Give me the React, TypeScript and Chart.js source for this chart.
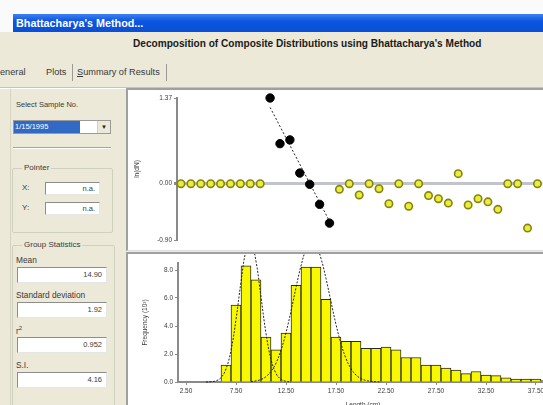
import React, { useEffect, useRef } from "react";
import { Chart, registerables } from "chart.js";

Chart.register(...registerables);

// ---------- Top panel: ln(dN) by length-class index ----------
const classIndexOther = [1, 2, 3, 4, 5, 6, 7, 8, 9, 17, 18, 19, 20, 21, 22, 23, 24, 25, 26, 27, 28, 29, 30, 31, 32, 33, 34, 35, 36, 37];
const lnOther = [0, 0, 0, 0, 0, 0, 0, 0, 0, -0.09, 0, -0.18, 0, -0.08, -0.32, 0, -0.36, 0, -0.19, -0.24, -0.31, 0.16, -0.34, -0.24, -0.29, -0.41, 0, 0, -0.71, 0];
const classIndexSelected = [10, 11, 12, 13, 14, 15, 16];
const lnSelected = [1.37, 0.64, 0.7, 0.17, -0.01, -0.33, -0.63];
const regressionX = [10, 16.2];
const regressionY = [1.22, -0.66];
const lnTicks = [-0.9, 0, 1.37];
const lnIndexRange = [0.6, 37.5];

// ---------- Bottom panel: length-frequency histogram ----------
const lengthMid = [6.5, 7.5, 8.5, 9.5, 10.5, 11.5, 12.5, 13.5, 14.5, 15.5, 16.5, 17.5, 18.5, 19.5, 20.5, 21.5, 22.5, 23.5, 24.5, 25.5, 26.5, 27.5, 28.5, 29.5, 30.5, 31.5, 32.5, 33.5, 34.5, 35.5, 36.5, 37.5, 38.5];
const frequency = [1.2, 5.5, 8.3, 7.3, 3.2, 2.3, 3.5, 6.9, 8.2, 8.2, 5.9, 3.2, 2.9, 2.9, 2.4, 2.4, 2.5, 2.3, 1.75, 1.75, 1.2, 1.2, 1.0, 0.85, 0.6, 0.75, 0.5, 0.45, 0.3, 0.2, 0.2, 0.2, 0.1];
const group1X = [4.5, 5, 5.5, 6, 6.5, 7, 7.5, 8, 8.5, 9, 9.5, 10, 10.5, 11, 11.5, 12, 12.5, 13];
const group1Y = [0, 0.02, 0.08, 0.31, 0.93, 2.25, 4.45, 7.15, 9.36, 9.96, 8.62, 6.07, 3.47, 1.62, 0.61, 0.19, 0.05, 0.01];
const group2X = [9, 9.5, 10, 10.5, 11, 11.5, 12, 12.5, 13, 13.5, 14, 14.5, 15, 15.5, 16, 16.5, 17, 17.5, 18, 18.5, 19, 19.5, 20, 20.5, 21, 21.5, 22];
const group2Y = [0.03, 0.08, 0.18, 0.38, 0.75, 1.35, 2.27, 3.52, 5.06, 6.74, 8.3, 9.46, 9.98, 9.76, 8.82, 7.39, 5.73, 4.11, 2.73, 1.68, 0.96, 0.5, 0.25, 0.11, 0.05, 0.02, 0];
const lengthTicks = [2.5, 7.5, 12.5, 17.5, 22.5, 27.5, 32.5, 37.5];
const lengthRange = [1.7, 38.7];
const freqTicks = [0, 2, 4, 6, 8];
const freqRange = [0, 8.5];

const FONT = '"Liberation Sans", Arial, sans-serif';
const AXIS = "#8a8a8a";
const TXT = "#3a3a3a";

function zip(xs: number[], ys: number[]) {
  return xs.map((x, i) => ({ x, y: ys[i] }));
}

function TopChart() {
  const ref = useRef<HTMLCanvasElement>(null);
  useEffect(() => {
    const chart = new Chart(ref.current!, {
      type: "scatter",
      data: {
        datasets: [
          {
            data: zip(regressionX, regressionY),
            showLine: true,
            borderColor: "#222",
            borderWidth: 1,
            borderDash: [2, 2],
            pointRadius: 0,
            order: 3,
          },
          {
            data: zip(classIndexSelected, lnSelected),
            backgroundColor: "#000",
            borderColor: "#000",
            pointRadius: 4.2,
            clip: false,
            order: 1,
          },
          {
            data: zip(classIndexOther, lnOther),
            backgroundColor: "#ecec3c",
            borderColor: "#84840e",
            borderWidth: 1.6,
            pointRadius: 3.7,
            clip: false,
            order: 2,
          },
        ],
      } as any,
      options: {
        animation: false,
        responsive: false,
        events: [],
        layout: { padding: { top: 8, bottom: 10, left: 0, right: 0 } },
        plugins: { legend: { display: false }, tooltip: { enabled: false } },
        scales: {
          x: { type: "linear", display: false, min: lnIndexRange[0], max: lnIndexRange[1] },
          y: {
            type: "linear",
            min: lnTicks[0],
            max: lnTicks[lnTicks.length - 1],
            afterBuildTicks: (s: any) => {
              s.ticks = lnTicks.map((v) => ({ value: v }));
            },
            afterFit: (s: any) => {
              s.width = 49;
            },
            ticks: {
              callback: (v: any) => Number(v).toFixed(2),
              font: { size: 6.5, family: FONT },
              color: TXT,
              padding: 2,
            },
            grid: {
              color: (c: any) => (c.tick && c.tick.value === 0 ? "#c3c3cb" : "rgba(0,0,0,0)"),
              lineWidth: (c: any) => (c.tick && c.tick.value === 0 ? 3 : 1),
              drawTicks: true,
              tickLength: 3,
              tickColor: AXIS,
            },
            border: { color: AXIS, width: 2 },
            title: {
              display: true,
              text: "ln(dN)",
              font: { size: 6.5, family: FONT },
              color: TXT,
              padding: { top: 5, bottom: 0 },
            },
          },
        },
      } as any,
    });
    return () => chart.destroy();
  }, []);
  return <canvas ref={ref} width={420} height={160} style={{ display: "block" }} />;
}

function BottomChart() {
  const ref = useRef<HTMLCanvasElement>(null);
  useEffect(() => {
    const chart = new Chart(ref.current!, {
      type: "bar",
      data: {
        datasets: [
          {
            type: "line",
            data: zip(group1X, group1Y),
            borderColor: "#222",
            borderWidth: 1,
            borderDash: [2, 1.5],
            pointRadius: 0,
            tension: 0.4,
            clip: false,
            order: 1,
          },
          {
            type: "line",
            data: zip(group2X, group2Y),
            borderColor: "#222",
            borderWidth: 1,
            borderDash: [2, 1.5],
            pointRadius: 0,
            tension: 0.4,
            clip: false,
            order: 1,
          },
          {
            type: "bar",
            data: zip(lengthMid, frequency),
            backgroundColor: "#f8f800",
            borderColor: "#2a2a2a",
            borderWidth: 1,
            borderSkipped: "start",
            barPercentage: 1,
            categoryPercentage: 1,
            grouped: false,
            order: 2,
          },
        ],
      } as any,
      options: {
        animation: false,
        responsive: false,
        events: [],
        layout: { padding: { top: 9, bottom: 0, left: 0, right: 0 } },
        plugins: { legend: { display: false }, tooltip: { enabled: false } },
        scales: {
          x: {
            type: "linear",
            min: lengthRange[0],
            max: lengthRange[1],
            offset: false,
            afterBuildTicks: (s: any) => {
              s.ticks = lengthTicks.map((v) => ({ value: v }));
            },
            afterFit: (s: any) => {
              s.height = 30;
            },
            ticks: {
              callback: (v: any) => Number(v).toFixed(2),
              font: { size: 6.5, family: FONT },
              color: TXT,
              padding: 2,
              maxRotation: 0,
              autoSkip: false,
            },
            grid: { drawOnChartArea: false, offset: false, tickLength: 3, tickColor: AXIS },
            border: { color: AXIS, width: 2 },
            title: {
              display: true,
              text: "Length (cm)",
              font: { size: 6.5, family: FONT },
              color: TXT,
              padding: { top: 0, bottom: 3 },
            },
          },
          y: {
            type: "linear",
            min: freqRange[0],
            max: freqRange[1],
            afterBuildTicks: (s: any) => {
              s.ticks = freqTicks.map((v) => ({ value: v }));
            },
            afterFit: (s: any) => {
              s.width = 50;
            },
            ticks: {
              callback: (v: any) => Number(v).toFixed(1),
              font: { size: 6.5, family: FONT },
              color: TXT,
              padding: 2,
            },
            grid: { drawOnChartArea: false, tickLength: 3, tickColor: AXIS },
            border: { color: AXIS, width: 2 },
            title: {
              display: true,
              text: "Frequency (10³)",
              font: { size: 6.5, family: FONT },
              color: TXT,
              padding: { top: 13, bottom: 0 },
            },
          },
        },
      } as any,
    });
    return () => chart.destroy();
  }, []);
  return <canvas ref={ref} width={420} height={158} style={{ display: "block" }} />;
}

const abs = (l: number, t: number, extra: React.CSSProperties = {}): React.CSSProperties => ({
  position: "absolute",
  left: l,
  top: t,
  ...extra,
});

function Field({ l, t, w, h, v }: { l: number; t: number; w: number; h: number; v: string }) {
  return (
    <div
      style={abs(l, t, {
        width: w,
        height: h,
        boxSizing: "border-box",
        background: "#fff",
        borderTop: "1px solid #8d8d8d",
        borderLeft: "1px solid #8d8d8d",
        borderRight: "1px solid #e6e6e6",
        borderBottom: "1px solid #e6e6e6",
        fontSize: 7.5,
        lineHeight: `${h - 2}px`,
        textAlign: "right",
        paddingRight: 4,
        color: TXT,
      })}
    >
      {v}
    </div>
  );
}

function Group({ l, t, w, h, label }: { l: number; t: number; w: number; h: number; label: string }) {
  return (
    <>
      <div
        style={abs(l, t, {
          width: w,
          height: h,
          boxSizing: "border-box",
          border: "1px solid #d0d0bf",
          borderRadius: 2,
        })}
      />
      <div style={abs(l + 10, t - 5, { fontSize: 8, lineHeight: "10px", background: "#ece9d8", padding: "0 2px", color: TXT })}>
        {label}
      </div>
    </>
  );
}

export default function App() {
  const label = (l: number, t: number, text: React.ReactNode, size = 7.5) => (
    <div style={abs(l, t, { fontSize: size, lineHeight: "10px", color: TXT, whiteSpace: "nowrap" })}>{text}</div>
  );
  return (
    <div
      style={{
        position: "fixed",
        left: 0,
        top: 0,
        width: 543,
        height: 405,
        overflow: "hidden",
        background: "#ece9d8",
        fontFamily: FONT,
      }}
    >
      <div style={abs(0, 0, { width: 543, height: 14, background: "#fafafa" })} />
      <div style={abs(0, 14, { width: 13, height: 18, background: "#fafafa" })} />
      <div
        style={abs(13, 14, {
          width: 530,
          height: 18,
          background: "linear-gradient(#3f80f2, #0b55e0 40%, #0a4fd6)",
          color: "#fff",
          fontWeight: "bold",
          fontSize: 10.8,
          lineHeight: "18px",
          paddingLeft: 3,
          boxSizing: "border-box",
          whiteSpace: "nowrap",
        })}
      >
        Bhattacharya's Method...
      </div>
      <div style={abs(133, 38, { fontSize: 10.1, fontWeight: "bold", lineHeight: "12px", color: "#1a1a1a", whiteSpace: "nowrap" })}>
        Decomposition of Composite Distributions using Bhattacharya's Method
      </div>

      {/* tabs */}
      <div style={abs(0, 67, { fontSize: 9.2, lineHeight: "11px", color: TXT, whiteSpace: "nowrap" })}>eneral</div>
      <div style={abs(46, 67, { fontSize: 9.2, lineHeight: "11px", color: TXT, whiteSpace: "nowrap" })}>Plots</div>
      <div style={abs(72, 64, { width: 1, height: 17, background: "#9a9a9a" })} />
      <div style={abs(77, 67, { fontSize: 9.2, lineHeight: "11px", color: TXT, whiteSpace: "nowrap" })}>
        <span style={{ textDecoration: "underline" }}>S</span>ummary of Results
      </div>
      <div style={abs(166, 64, { width: 1, height: 17, background: "#9a9a9a" })} />
      <div style={abs(0, 87, { width: 543, height: 1, background: "#c8c5b2" })} />
      <div style={abs(0, 88, { width: 543, height: 1, background: "#fff" })} />

      {/* left panel */}
      <div style={abs(10, 89, { width: 1, height: 320, background: "#d6d3c3" })} />
      {label(16, 100, "Select Sample No.")}
      <div
        style={abs(13, 120, {
          width: 98,
          height: 14,
          boxSizing: "border-box",
          background: "#fff",
          border: "1px solid #9a9a9a",
        })}
      />
      <div style={abs(14, 121, { width: 66, height: 12, background: "#316ac5", color: "#fff", fontSize: 7.5, lineHeight: "12px", paddingLeft: 1, boxSizing: "border-box" })}>
        1/15/1995
      </div>
      <div style={abs(97, 121, { width: 13, height: 12, background: "#ece9d8", borderLeft: "1px solid #cfcfcf", boxSizing: "border-box", fontSize: 6, lineHeight: "12px", textAlign: "center", color: "#222" })}>
        ▼
      </div>
      <div style={abs(13, 147, { width: 98, height: 1, background: "#a8a594" })} />
      <div style={abs(13, 148, { width: 98, height: 1, background: "#fff" })} />

      <Group l={12} t={168} w={101} h={65} label="Pointer" />
      {label(22, 183, "X:", 8)}
      <Field l={45} t={182} w={55} h={13} v="n.a." />
      {label(22, 203, "Y:", 8)}
      <Field l={45} t={202} w={55} h={13} v="n.a." />

      <Group l={12} t={245} w={103} h={200} label="Group Statistics" />
      {label(16, 255, "Mean", 8.3)}
      <Field l={17} t={267} w={90} h={16} v="14.90" />
      {label(16, 290, "Standard deviation", 8.3)}
      <Field l={17} t={302} w={90} h={16} v="1.92" />
      {label(16, 323, <span>r<sup style={{ fontSize: 6 }}>2</sup></span>, 8.3)}
      <Field l={17} t={337} w={90} h={16} v="0.952" />
      {label(16, 360, "S.I.", 8.3)}
      <Field l={17} t={372} w={90} h={16} v="4.16" />

      {/* chart panels */}
      <div
        style={abs(126, 88, {
          width: 430,
          height: 163,
          boxSizing: "border-box",
          background: "#fff",
          borderTop: "2px solid #a0a0a0",
          borderLeft: "2px solid #a0a0a0",
          borderBottom: "1px solid #e0e0e0",
        })}
      />
      <div style={abs(128, 90)}>
        <TopChart />
      </div>
      <div
        style={abs(126, 252, {
          width: 430,
          height: 170,
          boxSizing: "border-box",
          background: "#fff",
          borderTop: "2px solid #a0a0a0",
          borderLeft: "2px solid #a0a0a0",
        })}
      />
      <div style={abs(128, 254)}>
        <BottomChart />
      </div>
    </div>
  );
}
